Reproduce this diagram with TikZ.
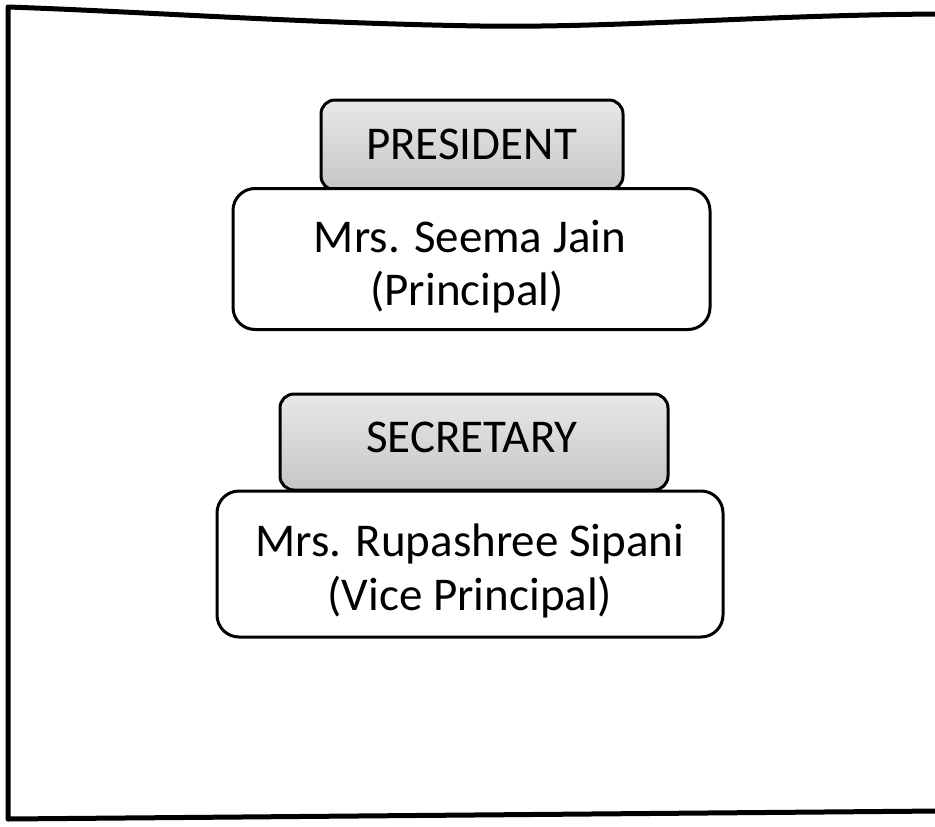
\documentclass[tikz,border=0pt]{standalone}
\usepackage{fontspec}
\setmainfont{Carlito}
\begin{document}
\begin{tikzpicture}[x=1pt,y=-1pt,
  titlebox/.style={draw=black, line width=3pt, rounded corners=14pt,
    top color=gray!18, bottom color=gray!45, inner sep=0pt},
  namebox/.style={draw=black, line width=3pt, rounded corners=22pt, fill=white, inner sep=0pt},
  lbl/.style={anchor=base, inner sep=0pt, font=\fontsize{47}{56}\selectfont},
  frameline/.style={line width=5pt, line cap=round, line join=round}]
\useasboundingbox (0,0) rectangle (935,827);
\fill[white] (0,0) rectangle (935,827);
% frame
\coordinate (tl) at (8,7);
\coordinate (bl) at (8,819);
\coordinate (br) at (940,811);
\coordinate (tr) at (940,14);
\draw[frameline] (tr) .. controls (760,15) and (620,28) .. (480,26)
  .. controls (300,23) and (150,12) .. (tl) -- (bl) -- (br);
% president
\node[titlebox, minimum width=302pt, minimum height=90pt] (pbox) at (472,145) {};
\node[lbl] (ptxt) at (471.5,159) {PRESIDENT};
\node[namebox, minimum width=477pt, minimum height=141pt] (nbox1) at (471.5,259) {};
\node[lbl] (n1a) at (470,252) {Mrs. Seema Jain};
\node[lbl] (n1b) at (467,305) {(Principal)};
% secretary
\node[titlebox, minimum width=388pt, minimum height=96pt] (sbox) at (474,442) {};
\node[lbl] (stxt) at (472,452) {SECRETARY};
\node[namebox, minimum width=506pt, minimum height=146pt] (nbox2) at (470,564) {};
\node[lbl] (n2a) at (470,556) {Mrs. Rupashree Sipani};
\node[lbl] (n2b) at (470,610) {(Vice Principal)};
\end{tikzpicture}
\end{document}
